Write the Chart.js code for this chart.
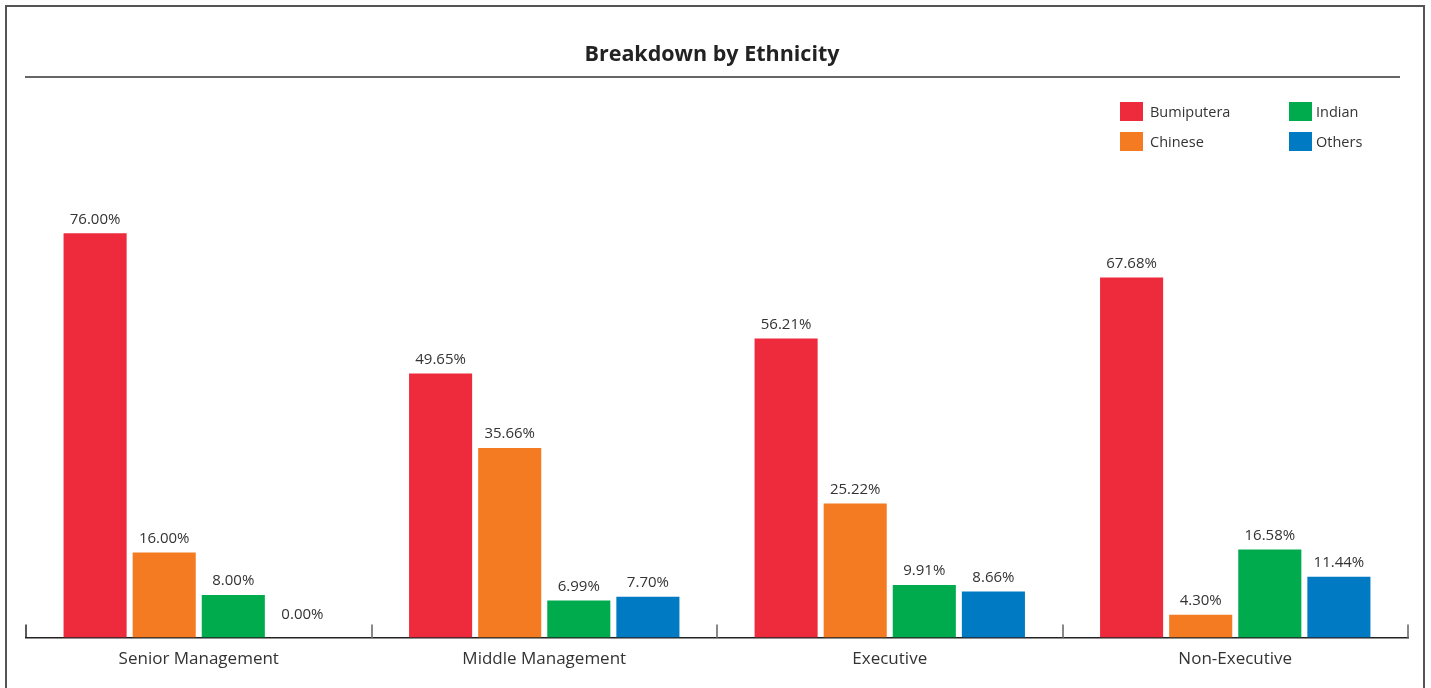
<!DOCTYPE html>
<html>
<head>
<meta charset="utf-8">
<script src="https://cdn.jsdelivr.net/npm/chart.js@4.4.1/dist/chart.umd.min.js"></script>
<style>
    html, body { margin: 0; padding: 0; background: #fff; overflow: hidden; }
    #frame {
        position: absolute; left: 5px; top: 5px; width: 1420px; height: 700px;
        border: 2px solid #555; box-sizing: border-box;
    }
    #chart { position: absolute; left: 0; top: 0; }
</style>
</head>
<body>
<div id="frame"></div>
<canvas id="chart" width="1431" height="688"></canvas>
<script>
// Datos del gráfico
const categories = ["Senior Management", "Middle Management", "Executive", "Non-Executive"];
const seriesNames = ["Bumiputera", "Chinese", "Indian", "Others"];
const bumiputera = [76.00, 49.65, 56.21, 67.68];
const chinese = [16.00, 35.66, 25.22, 4.30];
const indian = [8.00, 6.99, 9.91, 16.58];
const others = [0.00, 7.70, 8.66, 11.44];
const seriesColors = ["#EE2B3C", "#F47B21", "#00AB4E", "#007AC3"];
const titleText = "Breakdown by Ethnicity";

const FONT = "'Open Sans', Lato, sans-serif";

// Título, línea, leyenda, etiquetas y marcas del eje
const decorPlugin = {
    id: "decor",
    afterDraw(chart) {
        const ctx = chart.ctx;
        const area = chart.chartArea;
        ctx.save();

        // título
        ctx.fillStyle = "#222";
        ctx.font = "bold 21.5px " + FONT;
        ctx.textAlign = "center";
        ctx.textBaseline = "middle";
        ctx.fillText(titleText, 712, 55);

        // línea bajo el título
        ctx.strokeStyle = "#666";
        ctx.lineWidth = 2;
        ctx.beginPath();
        ctx.moveTo(25, 77);
        ctx.lineTo(1400, 77);
        ctx.stroke();

        // leyenda 2x2 (columnas)
        ctx.font = "14.5px " + FONT;
        ctx.textAlign = "left";
        chart.data.datasets.forEach((ds, i) => {
            const col = Math.floor(i / 2);
            const row = i % 2;
            const lx = 1120 + col * 169;
            const ly = 102 + row * 30;
            ctx.fillStyle = ds.backgroundColor;
            ctx.fillRect(lx, ly, 23, 19);
            ctx.fillStyle = "#333";
            ctx.fillText(ds.label, lx + 30 - col * 3, ly + 11);
        });

        // etiquetas de valores
        ctx.font = "15px " + FONT;
        ctx.textAlign = "center";
        ctx.fillStyle = "#333";
        chart.data.datasets.forEach((ds, i) => {
            const meta = chart.getDatasetMeta(i);
            meta.data.forEach((bar, j) => {
                const v = ds.data[j];
                const extra = v === 0 ? 9 : 0;
                ctx.fillText(v.toFixed(2) + "%", bar.x, bar.y - 14 - extra);
            });
        });

        // marcas del eje x en los límites de categoría
        const xs = chart.scales.x;
        const half = (xs.getPixelForValue(1) - xs.getPixelForValue(0)) / 2;
        for (let i = 0; i <= categories.length; i++) {
            const bx = Math.round(xs.getPixelForValue(0) - half + i * half * 2);
            ctx.strokeStyle = i === 0 ? "#222" : "#888";
            ctx.lineWidth = i === 0 ? 1.5 : 2;
            ctx.beginPath();
            ctx.moveTo(bx, area.bottom - 13);
            ctx.lineTo(bx, area.bottom);
            ctx.stroke();
        }
        ctx.restore();
    }
};

const datasets = [bumiputera, chinese, indian, others].map((values, i) => ({
    label: seriesNames[i],
    data: values,
    backgroundColor: seriesColors[i],
    borderWidth: 0,
    categoryPercentage: 0.8,
    barPercentage: 0.913
}));

new Chart(document.getElementById("chart"), {
    type: "bar",
    data: { labels: categories, datasets: datasets },
    options: {
        responsive: false,
        animation: false,
        layout: { padding: { left: 26, right: 23, top: 212, bottom: 16 } },
        plugins: {
            legend: { display: false },
            title: { display: false },
            tooltip: { enabled: false }
        },
        scales: {
            x: {
                grid: { display: false },
                border: { display: true, color: "#222", width: 1.5 },
                ticks: { color: "#333", font: { size: 17, family: FONT }, padding: 3 }
            },
            y: { display: false, min: 0, max: 80 }
        }
    },
    plugins: [decorPlugin]
});
</script>
</body>
</html>
